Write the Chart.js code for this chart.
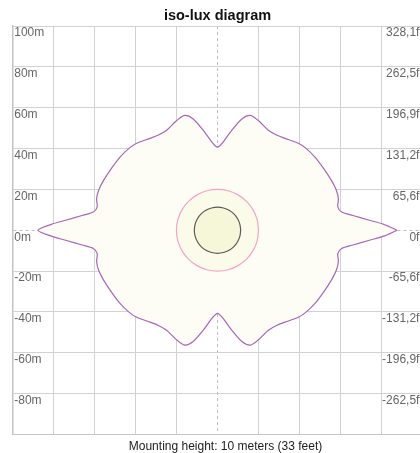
<!DOCTYPE html>
<html>
<head>
<meta charset="utf-8">
<script src="https://cdn.jsdelivr.net/npm/chart.js@4/dist/chart.umd.min.js"></script>
<style>
html, body { margin: 0; padding: 0; overflow: hidden; background: #fff; }
#wrap { width: 451px; height: 453px; }
</style>
</head>
<body>
<div id="wrap"><canvas id="c" width="451" height="453"></canvas></div>
<script>
// Tick values and labels
const meterTicks = [100, 80, 60, 40, 20, 0, -20, -40, -60, -80, -100];
const meterLabels = ['100m', '80m', '60m', '40m', '20m', '0m', '-20m', '-40m', '-60m', '-80m', ''];
const feetLabels = ['328,1ft', '262,5ft', '196,9ft', '131,2ft', '65,6ft', '0ft', '-65,6ft', '-131,2ft', '-196,9ft', '-262,5ft', ''];

// Outer iso-lux contour (meters)
const outerX = [
  87.5, 81, 74, 66, 60.5, 58.6, 58.9, 57.9, 55.5, 51.5, 47.5, 43, 39.6, 34.5, 29, 24.8, 20, 16, 12, 7, 2.8, 0,
  -2.8, -7, -12, -16, -20, -24.8, -29, -34.5, -39.6, -43, -47.5, -51.5, -55.5, -57.9, -58.9, -58.6, -60.5, -66, -74, -81, -87.5,
  -81, -74, -66, -60.5, -58.6, -58.9, -57.9, -55.5, -51.5, -47.5, -43, -39.6, -34.5, -29, -24.8, -20, -16, -12, -7, -2.8, 0,
  2.8, 7, 12, 16, 20, 24.8, 29, 34.5, 39.6, 43, 47.5, 51.5, 55.5, 57.9, 58.9, 58.6, 60.5, 66, 74, 81, 87.5
];
const outerY = [
  0, 2.9, 4.9, 7.2, 8.9, 11.4, 15.3, 19.6, 24.4, 30.5, 35.8, 40.2, 42.5, 44.4, 46.5, 49, 53.6, 56.2, 54.6, 49, 43.3, 40.7,
  43.3, 49, 54.6, 56.2, 53.6, 49, 46.5, 44.4, 42.5, 40.2, 35.8, 30.5, 24.4, 19.6, 15.3, 11.4, 8.9, 7.2, 4.9, 2.9, 0,
  -2.9, -4.9, -7.2, -8.9, -11.4, -15.3, -19.6, -24.4, -30.5, -35.8, -40.2, -42.5, -44.4, -46.5, -49, -53.6, -56.2, -54.6, -49, -43.3, -40.7,
  -43.3, -49, -54.6, -56.2, -53.6, -49, -46.5, -44.4, -42.5, -40.2, -35.8, -30.5, -24.4, -19.6, -15.3, -11.4, -8.9, -7.2, -4.9, -2.9, 0
];

// Middle contour (meters)
const midX = [20, 19.32, 17.32, 14.14, 10, 5.18, 0, -5.18, -10, -14.14, -17.32, -19.32, -20, -19.32, -17.32, -14.14, -10, -5.18, 0, 5.18, 10, 14.14, 17.32, 19.32, 20];
const midY = [0, 5.18, 10, 14.14, 17.32, 19.32, 20, 19.32, 17.32, 14.14, 10, 5.18, 0, -5.18, -10, -14.14, -17.32, -19.32, -20, -19.32, -17.32, -14.14, -10, -5.18, 0];

// Inner contour (meters)
const innerX = [11.3, 10.91, 9.79, 7.99, 5.65, 2.92, 0, -2.92, -5.65, -7.99, -9.79, -10.91, -11.3, -10.91, -9.79, -7.99, -5.65, -2.92, 0, 2.92, 5.65, 7.99, 9.79, 10.91, 11.3];
const innerY = [0, 2.92, 5.65, 7.99, 9.79, 10.91, 11.3, 10.91, 9.79, 7.99, 5.65, 2.92, 0, -2.92, -5.65, -7.99, -9.79, -10.91, -11.3, -10.91, -9.79, -7.99, -5.65, -2.92, 0];

const toPts = (xs, ys) => xs.map((x, i) => ({ x: x, y: ys[i] }));

const FONT = "'Liberation Sans', Arial, sans-serif";
const gridColor = ctx => (ctx.tick && ctx.tick.value === 0) ? '#bdbdbd' : '#d2d2d2';
const gridDash = ctx => (ctx.tick && ctx.tick.value === 0) ? [3, 3] : [];

new Chart(document.getElementById('c'), {
  type: 'scatter',
  data: {
    datasets: [
      {
        data: toPts(innerX, innerY),
        showLine: true, tension: 0.34, pointRadius: 0,
        borderColor: '#5a5a5a', borderWidth: 1.2,
        backgroundColor: '#f6f6d8', fill: 'shape'
      },
      {
        data: toPts(midX, midY),
        showLine: true, tension: 0.34, pointRadius: 0,
        borderColor: '#f5a3c8', borderWidth: 1.2,
        backgroundColor: '#fbfbea', fill: 'shape'
      },
      {
        data: toPts(outerX, outerY),
        showLine: true, tension: 0.3, pointRadius: 0,
        borderColor: '#a766b9', borderWidth: 1.2,
        backgroundColor: '#fdfdf6', fill: 'shape'
      }
    ]
  },
  options: {
    responsive: false,
    animation: false,
    events: [],
    layout: { padding: 0 },
    plugins: {
      legend: { display: false },
      tooltip: { enabled: false },
      title: {
        display: true,
        text: 'iso-lux diagram',
        fullSize: false,
        color: '#111',
        font: { family: FONT, size: 14.5, weight: 'bold', lineHeight: 1 },
        padding: { top: 9, bottom: 2.5 }
      },
      subtitle: {
        display: true,
        position: 'bottom',
        fullSize: true,
        text: 'Mounting height: 10 meters (33 feet)',
        color: '#222',
        font: { family: FONT, size: 12, weight: 'normal', lineHeight: 1 },
        padding: { top: 6, bottom: 0.5 }
      }
    },
    scales: {
      x: {
        type: 'linear', min: -100, max: 100,
        ticks: { display: false, stepSize: 20 },
        grid: { color: gridColor, lineWidth: 1, drawTicks: false },
        border: { color: '#c4c4c4', width: 1, dash: gridDash }
      },
      y: {
        type: 'linear', position: 'left', min: -100, max: 100,
        afterBuildTicks: axis => { axis.ticks = meterTicks.map(v => ({ value: v })); },
        afterFit: axis => { axis.width = 12.25; },
        ticks: {
          mirror: true, padding: 2, labelOffset: 7,
          color: '#666', font: { family: FONT, size: 12 },
          callback: v => meterLabels[meterTicks.indexOf(v)]
        },
        grid: { color: gridColor, lineWidth: 1, drawTicks: false },
        border: { color: '#c4c4c4', width: 1.5, dash: gridDash }
      },
      y2: {
        type: 'linear', position: 'right', min: -100, max: 100,
        afterBuildTicks: axis => { axis.ticks = meterTicks.map(v => ({ value: v })); },
        afterFit: axis => { axis.width = 28.25; },
        ticks: {
          mirror: true, padding: 0, labelOffset: 7,
          color: '#666', font: { family: FONT, size: 12 },
          callback: v => feetLabels[meterTicks.indexOf(v)]
        },
        grid: { display: false, drawTicks: false },
        border: { display: false }
      }
    }
  }
});
</script>
</body>
</html>
